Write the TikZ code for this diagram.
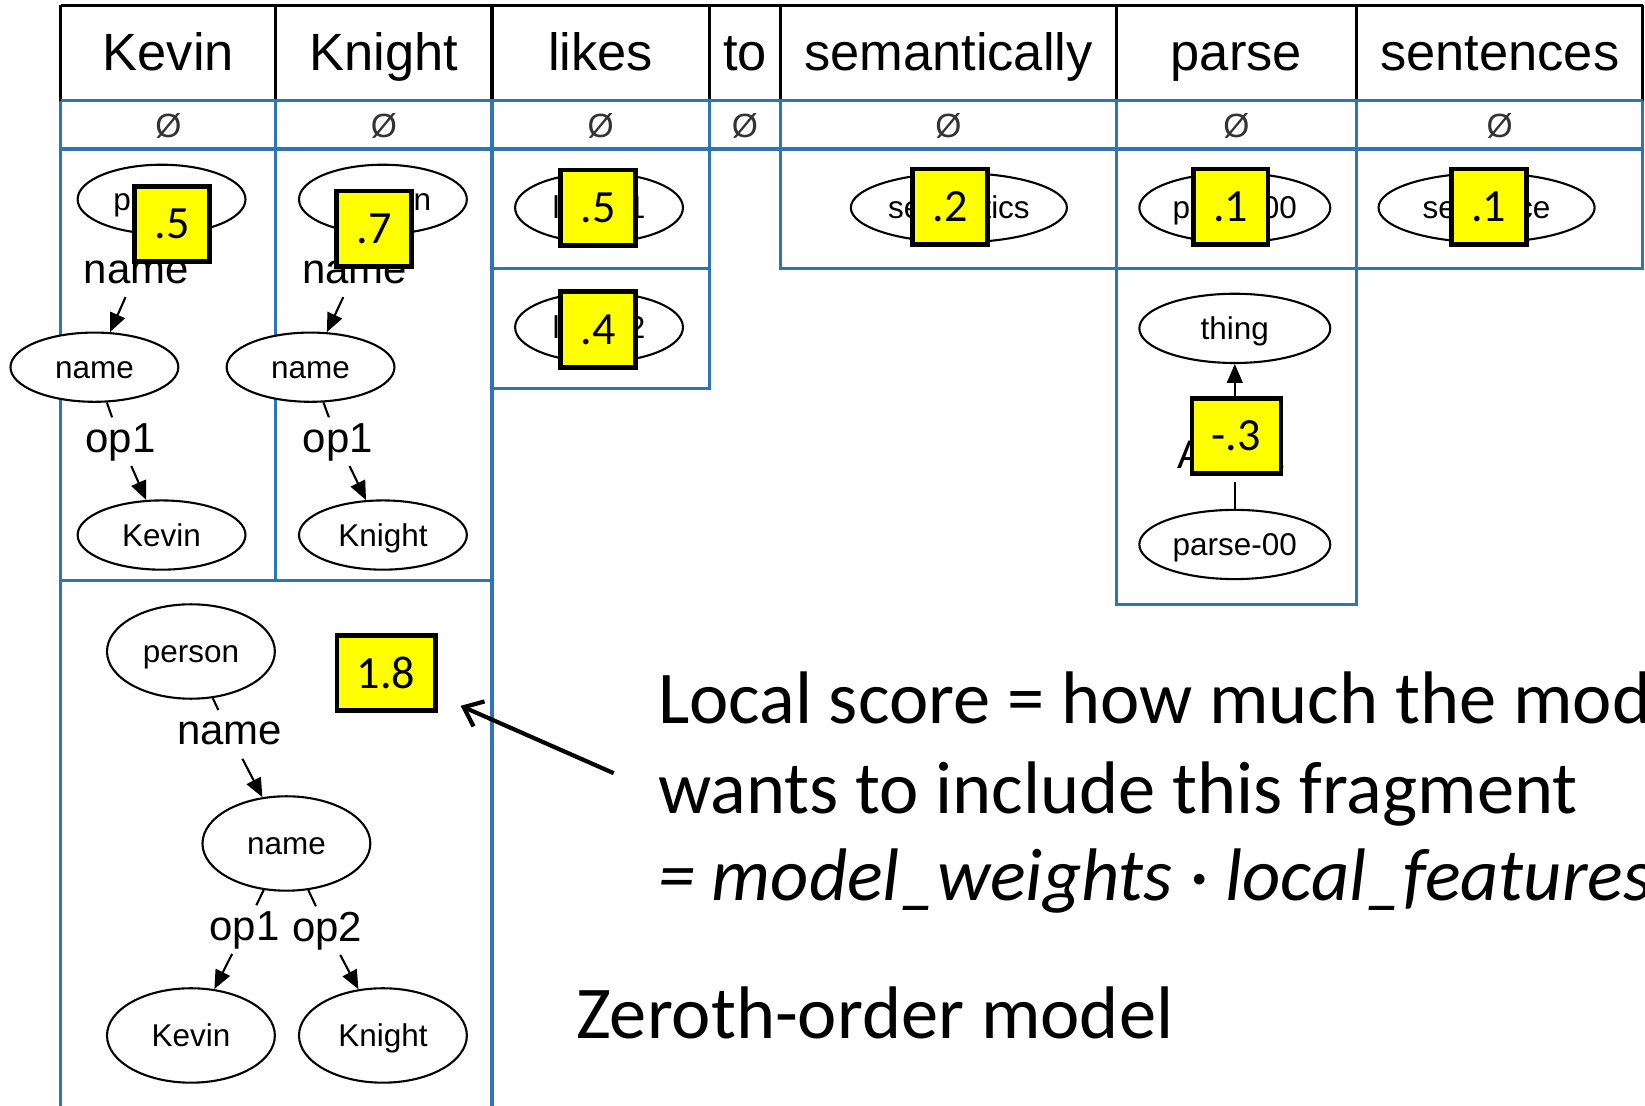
\documentclass[tikz,border=0pt]{standalone}
\usepackage{fontspec}
\setmainfont{Liberation Sans}
\newfontfamily\slidefont{Carlito}
\usetikzlibrary{shapes.geometric,arrows.meta}

\definecolor{gridblue}{RGB}{46,117,182}
\definecolor{scoreyellow}{RGB}{255,255,0}

\begin{document}
\begin{tikzpicture}[x=1pt,y=-1pt,
  hdr/.style={font=\fontsize{50}{60}\selectfont, anchor=base, inner sep=0pt},
  emptyset/.style={font=\fontsize{32}{38}\selectfont, text=black!80, inner sep=0pt},
  concept/.style={ellipse, draw, fill=white, line width=2pt, minimum width=160pt,
    minimum height=66pt, inner sep=0pt, text height=21pt, text depth=0pt,
    font=\fontsize{30}{36}\selectfont},
  rel/.style={font=\fontsize{40}{48}\selectfont, anchor=base, inner sep=3pt,
    text height=30pt, text depth=10pt},
  arc/.style={line width=2pt, -{Triangle[length=18pt,width=15pt]}},
  stub/.style={line width=2pt},
  score/.style={draw, line width=4.5pt, fill=scoreyellow, minimum width=69pt,
    minimum height=72pt, inner xsep=19pt, font=\slidefont\fontsize{44}{52}\selectfont},
  expl/.style={font=\slidefont\fontsize{71}{85}\selectfont, anchor=base west, inner sep=0pt},
  pointer/.style={line width=4pt, -{Straight Barb[length=16pt,width=26pt]}},
  headline/.style={line width=3pt, black},
  gridline/.style={line width=3pt, gridblue},
]
\useasboundingbox (0,0) rectangle (1568,1054);

% ---- word header (black) ----
\draw[headline] (58,5) -- (1566,5);
\foreach \x in {58,263,469,676,744,1064,1293,1566}
  \draw[headline] (\x,5) -- (\x,96);

% ---- empty-fragment row and fragment cells (blue) ----
\draw[gridline] (58,96) -- (1566,96);
\draw[gridline] (58,142) -- (1566,142);
\foreach \x in {58,263,469,676,744,1064,1293,1566}
  \draw[gridline] (\x,96) -- (\x,142);
\draw[gridline] (58,142) rectangle (263,553);
\draw[gridline] (263,142) rectangle (469,553);
\draw[gridline] (469,142) rectangle (676,256);
\draw[gridline] (469,256) rectangle (676,370);
\draw[gridline] (744,142) rectangle (1064,256);
\draw[gridline] (1064,142) rectangle (1293,256);
\draw[gridline] (1293,142) rectangle (1566,256);
\draw[gridline] (1064,256) rectangle (1293,576);
\draw[gridline] (58,553) rectangle (469,1070);

% ---- words ----
\node[hdr] (wKevin)  at (160.5,67) {Kevin};
\node[hdr] (wKnight) at (366,67)   {Knight};
\node[hdr] (wLikes)  at (572.5,67) {likes};
\node[hdr] (wTo)     at (710,67)   {to};
\node[hdr] (wSem)    at (904,67)   {semantically};
\node[hdr] (wParse)  at (1178.5,67){parse};
\node[hdr] (wSent)   at (1429.5,67){sentences};

% ---- empty fragments ----
\node[emptyset] (eKevin)  at (160.5,120) {Ø};
\node[emptyset] (eKnight) at (366,120)   {Ø};
\node[emptyset] (eLikes)  at (572.5,120) {Ø};
\node[emptyset] (eTo)     at (710,120)   {Ø};
\node[emptyset] (eSem)    at (904,120)   {Ø};
\node[emptyset] (eParse)  at (1178.5,120){Ø};
\node[emptyset] (eSent)   at (1429.5,120){Ø};

% ---- fragment for "Kevin" ----
\node[concept] (kvP) at (154,190) {person};
\node[rel] (kvName) at (130,270) {name};
\node[concept] (kvN) at (90,350) {name};
\node[rel] (kvOp) at (115,431) {op1};
\node[concept] (kvK) at (154,510) {Kevin};
\draw[stub] (kvP) -- (kvName);
\draw[arc] (kvName) -- (kvN);
\draw[stub] (kvN) -- (kvOp);
\draw[arc] (kvOp) -- (kvK);

% ---- fragment for "Knight" ----
\node[concept] (knP) at (365,190) {person};
\node[rel] (knName) at (338,270) {name};
\node[concept] (knN) at (296,350) {name};
\node[rel] (knOp) at (322,431) {op1};
\node[concept] (knK) at (365,510) {Knight};
\draw[stub] (knP) -- (knName);
\draw[arc] (knName) -- (knN);
\draw[stub] (knN) -- (knOp);
\draw[arc] (knOp) -- (knK);

% ---- fragments for "likes" ----
\node[concept] (lk1) at (571,198) {like-01};
\node[concept] (lk2) at (571,312) {like-02};

% ---- single-concept fragments ----
\node[concept, minimum width=206pt] (sem) at (914,198) {semantics};
\node[concept, minimum width=182pt] (prs) at (1177,198) {parse-00};
\node[concept, minimum width=206pt] (snt) at (1417,198) {sentence};

% ---- fragment for "parse" ----
\node[concept, minimum width=182pt] (thing) at (1177,313) {thing};
\node[rel, font=\fontsize{38}{46}\selectfont, text height=28.5pt, text depth=9.5pt]
  (arg) at (1174,447) {ARG1};
\node[concept, minimum width=182pt] (prs2) at (1177,519) {parse-00};
\draw[stub] (prs2.north) -- (prs2.north |- arg.south);
\draw[arc] (arg.north -| thing.south) -- (thing);

% ---- fragment for "Kevin Knight" ----
\node[concept, minimum height=90pt] (kkP) at (182,621) {person};
\node[rel] (kkName) at (219,710) {name};
\node[concept, minimum height=90pt] (kkN) at (273,804) {name};
\node[rel] (kkOp1) at (233,896) {op1};
\node[rel] (kkOp2) at (312,897) {op2};
\node[concept, minimum height=90pt] (kkK) at (182,987) {Kevin};
\node[concept, minimum height=90pt] (kkKn) at (365,987) {Knight};
\draw[stub] (kkP) -- (kkName);
\draw[arc] (kkName) -- (kkN);
\draw[stub] (kkN) -- (kkOp1);
\draw[stub] (kkN) -- (kkOp2);
\draw[arc] (kkOp1) -- (kkK);
\draw[arc] (kkOp2) -- (kkKn);

% ---- local scores ----
\node[score] (sKevin)  at (164,213.5) {.5};
\node[score] (sKnight) at (356.5,218) {.7};
\node[score] (sLk1)    at (570,198)   {.5};
\node[score] (sLk2)    at (570,314)   {.4};
\node[score] (sSem)    at (905.5,197) {.2};
\node[score] (sPrs)    at (1173,197)  {.1};
\node[score] (sSnt)    at (1419,197)  {.1};
\node[score] (sThing)  at (1178.5,415.5) {-.3};
\node[score] (sKK)     at (368,641.5) {1.8};

% ---- explanation ----
\node[expl] (t1) at (627,690) {Local score = how much the model};
\node[expl] (t2) at (627,775) {wants to include this fragment};
\node[expl] (t3) at (627,858) {\itshape = model\_weights · local\_features};
\node[expl] (t4) at (549,990) {Zeroth-order model};
\coordinate (callout) at (585,737);
\draw[pointer, shorten >=24pt] (callout) -- (sKK);
\end{tikzpicture}
\end{document}
